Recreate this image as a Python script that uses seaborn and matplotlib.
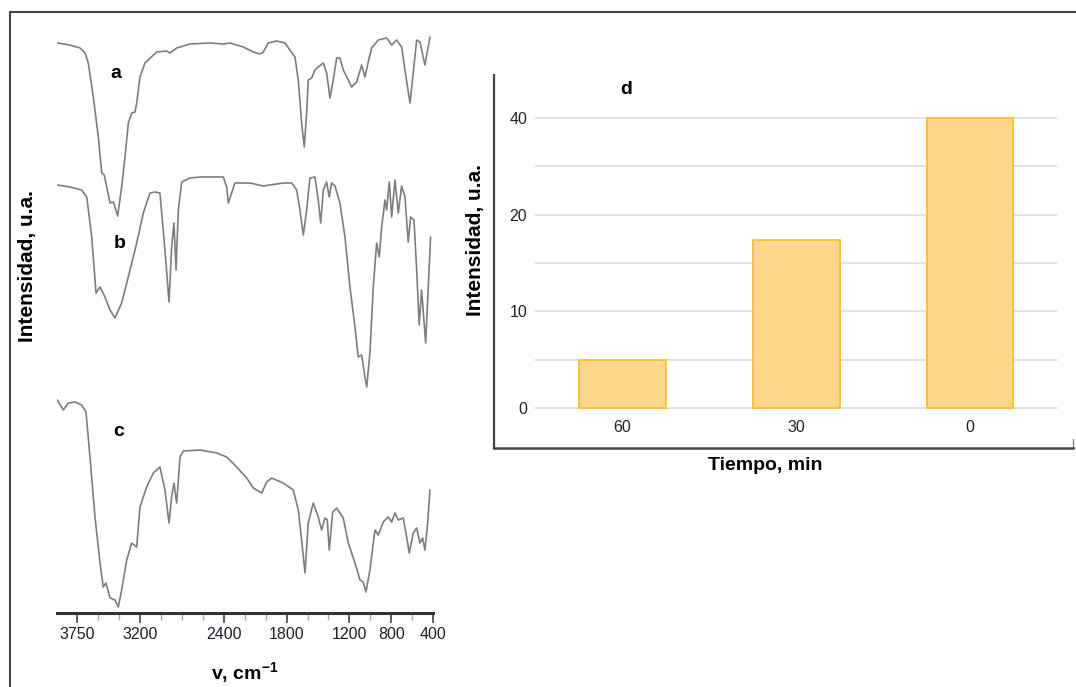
import numpy as np
import pandas as pd
import matplotlib
matplotlib.use("Agg")
import matplotlib.pyplot as plt
from matplotlib.lines import Line2D
import seaborn as sns

# ---------------- IR spectra (wavenumber in cm-1, intensity in a.u.) ----------------
nu_a = [3992, 3871, 3775, 3727, 3696, 3648, 3600, 3568, 3543, 3520,
        3488, 3457, 3415, 3377, 3345, 3313, 3281, 3249, 3233, 3202,
        3154, 3042, 2946, 2915, 2851, 2724, 2532, 2405, 2341, 2214,
        2118, 2054, 2023, 1975, 1895, 1815, 1768, 1720, 1688, 1656,
        1631, 1608, 1593, 1560, 1529, 1497, 1449, 1417, 1385, 1354,
        1321, 1290, 1258, 1210, 1178, 1130, 1082, 1051, 1019, 987,
        923, 843, 795, 748, 700, 668, 620, 589, 556, 525,
        477, 429]
int_a = [570, 568, 565, 560, 550, 516, 476, 440, 438, 426,
         410, 411, 397, 426, 456, 490, 500, 501, 510, 536,
         550, 561, 562, 560, 565, 569, 570, 569, 570, 566,
         561, 559, 561, 570, 572, 570, 563, 556, 533, 490,
         466, 500, 533, 535, 543, 546, 550, 540, 515, 533,
         555, 555, 543, 533, 526, 531, 548, 536, 551, 565,
         573, 575, 568, 573, 566, 543, 510, 540, 573, 571,
         548, 576]

nu_b = [3992, 3871, 3759, 3711, 3663, 3622, 3584, 3537, 3488, 3441,
        3377, 3297, 3233, 3170, 3106, 3058, 3011, 2963, 2924, 2899,
        2877, 2857, 2835, 2803, 2724, 2628, 2405, 2373, 2357, 2325,
        2294, 2150, 2023, 1832, 1751, 1704, 1672, 1640, 1608, 1577,
        1529, 1497, 1474, 1449, 1417, 1392, 1369, 1337, 1290, 1242,
        1194, 1146, 1115, 1082, 1051, 1034, 1003, 971, 939, 914,
        891, 859, 843, 818, 795, 764, 732, 700, 668, 637,
        614, 582, 556, 532, 509, 470, 445, 423]
int_b = [428, 426, 423, 416, 376, 320, 326, 316, 303, 295,
         310, 343, 370, 400, 420, 421, 420, 363, 311, 366,
         390, 343, 403, 431, 435, 436, 436, 426, 410, 420,
         430, 430, 427, 430, 430, 423, 403, 378, 403, 435,
         436, 413, 390, 423, 431, 416, 430, 427, 410, 376,
         326, 286, 256, 258, 236, 226, 260, 326, 370, 356,
         386, 413, 403, 431, 396, 433, 400, 427, 416, 371,
         396, 393, 343, 288, 323, 270, 326, 376]

nu_c = [3992, 3935, 3887, 3823, 3759, 3718, 3680, 3632, 3584, 3553,
        3527, 3488, 3441, 3409, 3377, 3329, 3281, 3233, 3202, 3138,
        3074, 3011, 2963, 2924, 2899, 2877, 2851, 2819, 2788, 2628,
        2468, 2373, 2277, 2182, 2118, 2038, 1990, 1943, 1832, 1736,
        1688, 1656, 1624, 1593, 1545, 1497, 1465, 1433, 1411, 1392,
        1359, 1321, 1258, 1210, 1146, 1098, 1067, 1041, 1003, 955,
        923, 876, 828, 795, 764, 732, 684, 652, 627, 589,
        556, 525, 499, 477, 451, 429]
int_c = [213, 203, 210, 211, 208, 201, 156, 96, 50, 26,
         30, 15, 13, 6, 23, 53, 70, 66, 106, 126,
         140, 146, 123, 90, 116, 130, 110, 156, 162, 163,
         160, 156, 146, 135, 125, 120, 131, 135, 130, 123,
         103, 73, 40, 90, 110, 96, 83, 95, 93, 63,
         101, 105, 95, 70, 50, 33, 31, 21, 43, 83,
         78, 91, 96, 91, 100, 93, 95, 76, 60, 80,
         85, 70, 75, 63, 90, 123]

ir_minor_ticks = [3800, 3600, 3400, 3200, 3000, 2800, 2600, 2400, 2200,
                  2000, 1800, 1600, 1400, 1200, 1000, 800, 600, 400]
ir_major_ticks = [3800, 3200, 2400, 1800, 1200, 800, 400]
ir_tick_labels = ["3750", "3200", "2400", "1800", "1200", "800", "400"]

# ---------------- Bar chart ----------------
tiempo = ["60", "30", "0"]
intensidad_bar = [5, 16.7, 40]
bar_ticks = [0, 10, 20, 40]
bar_tick_labels = ["0", "10", "20", "40"]
bar_grid = [0, 5, 10, 14.1, 20, 28.3, 40]

# ---------------- Figure ----------------
sns.set_style("white")
plt.rcParams["font.family"] = ["Liberation Sans", "DejaVu Sans"]
plt.rcParams["mathtext.fontset"] = "custom"
plt.rcParams["mathtext.rm"] = "Liberation Sans"
plt.rcParams["mathtext.bf"] = "Liberation Sans:bold"
plt.rcParams["text.color"] = "black"

W, H = 1076, 687
fig = plt.figure(figsize=(W / 100, H / 100), dpi=100)
fig.patch.set_facecolor("white")


def fx(px):
    return px / W


def fy(py):
    return 1 - py / H


# outer frame
fig.add_artist(Line2D([fx(9.5), fx(9.5)], [fy(12), 0], transform=fig.transFigure,
                      color="#444444", lw=1.5))
fig.add_artist(Line2D([fx(9.5), 1], [fy(12), fy(12)], transform=fig.transFigure,
                      color="#444444", lw=1.5))

# ----- left panel: spectra -----
axL = fig.add_axes([fx(56.5), fy(613), fx(433) - fx(56.5), fy(20) - fy(613)])
axL.set_facecolor("none")
for nu, val in [(nu_a, int_a), (nu_b, int_b), (nu_c, int_c)]:
    sns.lineplot(x=nu, y=val, ax=axL, color="#7d7d7d", lw=1.2,
                 estimator=None, sort=False)
axL.set_xlim(4000, 400)
axL.set_ylim(0, 593)
axL.set_yticks([])
for s in ["left", "top", "right"]:
    axL.spines[s].set_visible(False)
axL.spines["bottom"].set_color("#333333")
axL.spines["bottom"].set_linewidth(2.2)
axL.set_xticks(ir_major_ticks)
axL.set_xticklabels(ir_tick_labels)
axL.set_xticks(ir_minor_ticks, minor=True)
axL.tick_params(axis="x", which="both", bottom=True)
axL.tick_params(axis="x", which="major", direction="out", length=7, width=1.2,
                color="#444444", labelsize=11.5, labelcolor="#1e1e2a", pad=3)
axL.tick_params(axis="x", which="minor", direction="out", length=5, width=1,
                color="#aaaaaa")
axL.set_xlabel("")
axL.set_ylabel("")

fig.text(fx(116), fy(73), "a", fontsize=14, fontweight="bold", ha="center", va="center")
fig.text(fx(120), fy(243), "b", fontsize=14, fontweight="bold", ha="center", va="center")
fig.text(fx(119), fy(432), "c", fontsize=14, fontweight="bold", ha="center", va="center")
fig.text(fx(28), fy(266), "Intensidad, u.a.", fontsize=15, fontweight="bold",
         rotation=90, ha="center", va="center")
fig.text(fx(245), fy(673), r"v, cm$^{\mathbf{-1}}$", fontsize=14, fontweight="bold",
         ha="center", va="center")

# ----- right panel: bar chart -----
axR = fig.add_axes([fx(494), fy(448), fx(1073) - fx(494), fy(75) - fy(448)])
axR.set_facecolor("none")
df = pd.DataFrame({"Tiempo": tiempo, "Intensidad": intensidad_bar})
sns.barplot(data=df, x="Tiempo", y="Intensidad", order=tiempo, ax=axR,
            color="#FDD68B", edgecolor="#F6C22C", linewidth=1.3, width=0.5,
            saturation=1, zorder=3)


def _fwd(v):
    v = np.asarray(v, dtype=float)
    return np.where(v <= 10, v / 10.0, 1 + np.log2(np.maximum(v, 10) / 10.0))


def _inv(p):
    p = np.asarray(p, dtype=float)
    return np.where(p <= 1, p * 10.0, 10.0 * 2 ** (np.minimum(p, 50) - 1))


axR.set_yscale("function", functions=(_fwd, _inv))
axR.set_ylim(-4.14, 54.5)
axR.set_xlim(-0.736, 2.592)
axR.hlines(bar_grid, -0.5, 2.5, color="#e2e2e2", lw=1.4, zorder=1)
axR.set_yticks(bar_ticks)
axR.set_yticklabels(bar_tick_labels)
axR.yaxis.set_minor_locator(matplotlib.ticker.NullLocator())
axR.tick_params(axis="y", length=0, pad=-24, labelsize=11.5, labelcolor="#222222")
for lab in axR.get_yticklabels():
    lab.set_horizontalalignment("right")
axR.tick_params(axis="x", length=0, pad=-20.5, labelsize=11.5, labelcolor="#222222")
axR.grid(False)
for s in ["top", "right"]:
    axR.spines[s].set_visible(False)
axR.spines["left"].set_color("#444444")
axR.spines["left"].set_linewidth(1.6)
axR.spines["bottom"].set_color("#444444")
axR.spines["bottom"].set_linewidth(1.8)
axR.plot([1, 1], [0, 0.025], transform=axR.transAxes, color="#888888", lw=1,
         clip_on=False)
axR.set_xlabel("")
axR.set_ylabel("")

fig.text(fx(626), fy(90), "d", fontsize=14, fontweight="bold", ha="center", va="center")
fig.text(fx(476), fy(240), "Intensidad, u.a.", fontsize=15, fontweight="bold",
         rotation=90, ha="center", va="center")
fig.text(fx(765), fy(466), "Tiempo, min", fontsize=14, fontweight="bold",
         ha="center", va="center")

fig.savefig("out.png", dpi=100, facecolor="white")
